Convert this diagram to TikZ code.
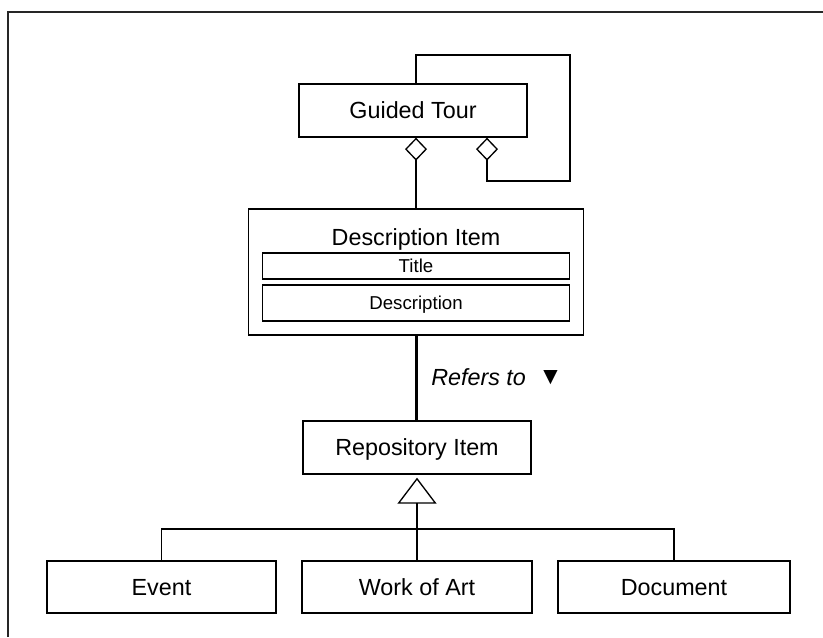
\documentclass[tikz,border=0pt]{standalone}
\usepackage{fontspec}
\setmainfont{Liberation Sans}
\newfontfamily\symbolfont{DejaVu Sans}
\usetikzlibrary{arrows.meta}

\begin{document}
\begin{tikzpicture}[x=0.75pt,y=-0.75pt,
  big/.style={font=\fontsize{17.5}{20}\selectfont},
  small/.style={font=\fontsize{14}{17}\selectfont},
  box/.style={draw,line width=1pt,inner sep=0pt,big,text height=12.5pt,text depth=0pt},
  subbox/.style={draw,line width=1pt,inner sep=0pt,small,text height=10pt,text depth=0pt},
  link/.style={line width=1pt},
  aggr/.style={line width=1pt,-{Diamond[open,length=17.25pt,width=16.5pt]}},
  gen/.style={line width=1pt,-{Triangle[open,length=19.5pt,width=29.25pt]}}]
\useasboundingbox (0,0) rectangle (823,637);

% frame
\draw[line width=1.6pt,black!85] (8,637) -- (8,12) -- (823,12);

% classes
\node[box,minimum width=171pt,minimum height=39.75pt] (gt) at (413,110.5) {Guided Tour};
\node[box,minimum width=251.25pt,minimum height=94.5pt] (desc) at (416,272) {};
\node[big,inner sep=0pt,text height=12.5pt,text depth=0pt] (desctitle) at (416,237) {Description Item};
\node[subbox,minimum width=230.25pt,minimum height=19.5pt] (title) at (416,266) {Title};
\node[subbox,minimum width=230.25pt,minimum height=27pt] (descr) at (416,303) {Description};
\node[box,minimum width=171pt,minimum height=39.75pt] (rep) at (417,447.5) {Repository Item};
\node[box,minimum width=171.75pt,minimum height=39pt] (ev) at (161.5,587) {Event};
\node[box,minimum width=172.5pt,minimum height=39pt] (wa) at (417,587) {Work of Art};
\node[box,minimum width=174pt,minimum height=39pt] (doc) at (674,587) {Document};

% aggregation
\draw[aggr] (desc.north) -- (desc.north |- gt.south);
\coordinate (loopcorner) at (570,55);
\coordinate (loopfoot) at (487,181);
\draw[aggr] ([xshift=2.25pt]gt.north) |- (loopcorner) |- (loopfoot) -- (loopfoot |- gt.south);

% association
\draw[line width=2.25pt] (desc.south) -- (desc.south |- rep.north);
\node[anchor=west,big,inner sep=0pt] (refers) at (431,377)
  {\itshape Refers to\hspace{13pt}\raisebox{2.5pt}{\symbolfont\upshape\fontsize{14}{17}\selectfont ▼}};

% generalization
\coordinate (bar) at (417,529);
\draw[gen] (wa.north) -- ([yshift=-2.25pt]rep.south);
\draw[link] (ev.north) -- (ev.north |- bar) -- (doc.north |- bar) -- (doc.north);
\end{tikzpicture}
\end{document}
